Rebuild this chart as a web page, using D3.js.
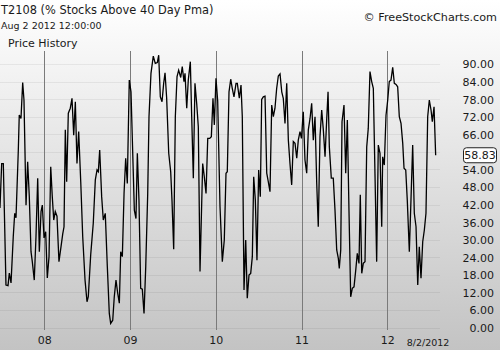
<!DOCTYPE html>
<html>
<head>
<meta charset="utf-8">
<script src="https://cdn.jsdelivr.net/npm/d3@7/dist/d3.min.js"></script>
<style>
  html, body { margin: 0; padding: 0; background: #fff; }
  svg { display: block; }
  text { font-family: "DejaVu Sans", Verdana, sans-serif; fill: #1a1a1a; }
</style>
</head>
<body>
<script>
// T2108 weekly readings, time as decimal year
const weekTime = [
  2007.483, 2007.503, 2007.522, 2007.553, 2007.577, 2007.592, 2007.612, 2007.638, 2007.655, 2007.670,
  2007.697, 2007.708, 2007.728, 2007.748, 2007.763, 2007.787, 2007.806, 2007.825, 2007.845, 2007.860,
  2007.883, 2007.903, 2007.923, 2007.942, 2007.962, 2007.977, 2007.997, 2008.016, 2008.035, 2008.055,
  2008.075, 2008.093, 2008.110, 2008.128, 2008.148, 2008.171, 2008.195, 2008.215, 2008.230, 2008.245,
  2008.261, 2008.280, 2008.303, 2008.323, 2008.343, 2008.362, 2008.381, 2008.401, 2008.425, 2008.448,
  2008.475, 2008.498, 2008.513, 2008.541, 2008.571, 2008.595, 2008.615, 2008.630, 2008.646, 2008.669,
  2008.688, 2008.711, 2008.735, 2008.758, 2008.774, 2008.798, 2008.816, 2008.836, 2008.856, 2008.875,
  2008.891, 2008.910, 2008.930, 2008.949, 2008.968, 2008.991, 2009.011, 2009.050, 2009.069, 2009.085,
  2009.104, 2009.124, 2009.143, 2009.163, 2009.183, 2009.206, 2009.221, 2009.244, 2009.271, 2009.294,
  2009.318, 2009.334, 2009.353, 2009.373, 2009.392, 2009.408, 2009.427, 2009.451, 2009.474, 2009.489,
  2009.509, 2009.528, 2009.548, 2009.567, 2009.591, 2009.609, 2009.629, 2009.641, 2009.661, 2009.679,
  2009.703, 2009.719, 2009.738, 2009.757, 2009.777, 2009.796, 2009.816, 2009.847, 2009.866, 2009.886,
  2009.906, 2009.929, 2009.948, 2009.967, 2009.983, 2010.002, 2010.022, 2010.049, 2010.076, 2010.099,
  2010.119, 2010.134, 2010.154, 2010.174, 2010.192, 2010.212, 2010.236, 2010.251, 2010.274, 2010.294,
  2010.309, 2010.329, 2010.349, 2010.367, 2010.387, 2010.407, 2010.426, 2010.442, 2010.461, 2010.480,
  2010.500, 2010.519, 2010.535, 2010.554, 2010.574, 2010.594, 2010.612, 2010.632, 2010.652, 2010.671,
  2010.690, 2010.710, 2010.729, 2010.749, 2010.769, 2010.787, 2010.807, 2010.827, 2010.846, 2010.865,
  2010.885, 2010.904, 2010.924, 2010.944, 2010.962, 2010.982, 2010.999, 2011.020, 2011.040, 2011.060,
  2011.079, 2011.099, 2011.118, 2011.137, 2011.157, 2011.177, 2011.195, 2011.215, 2011.235, 2011.254,
  2011.274, 2011.293, 2011.309, 2011.324, 2011.347, 2011.370, 2011.390, 2011.410, 2011.429, 2011.440,
  2011.457, 2011.472, 2011.495, 2011.515, 2011.534, 2011.553, 2011.573, 2011.592, 2011.612, 2011.632,
  2011.650, 2011.670, 2011.685, 2011.702, 2011.720, 2011.740, 2011.760, 2011.778, 2011.798, 2011.818,
  2011.837, 2011.857, 2011.876, 2011.895, 2011.915, 2011.935, 2011.946, 2011.965, 2011.985, 2012.005,
  2012.023, 2012.043, 2012.063, 2012.082, 2012.102, 2012.121, 2012.140, 2012.160, 2012.180, 2012.195,
  2012.215, 2012.233, 2012.257, 2012.276, 2012.296, 2012.315, 2012.335, 2012.355, 2012.373, 2012.393,
  2012.413, 2012.432, 2012.451, 2012.471, 2012.490, 2012.510, 2012.525, 2012.545, 2012.564
];

const t2108 = [
  40.8, 56.0, 56.0, 14.5, 14.3, 18.6, 15.2, 31.0, 39.0, 37.5,
  60.6, 72.6, 71.4, 83.7, 77.7, 41.8, 56.6, 44.7, 25.9, 22.5,
  16.2, 31.0, 51.0, 25.9, 39.6, 41.8, 30.6, 32.7, 16.9, 24.2,
  54.9, 44.7, 36.7, 39.6, 38.0, 22.5, 27.6, 32.0, 34.4, 67.5,
  49.8, 73.2, 74.9, 78.3, 65.7, 77.1, 56.0, 66.9, 49.8, 31.0,
  16.2, 8.8, 10.5, 24.8, 35.6, 50.4, 53.8, 53.2, 60.6, 44.7,
  36.7, 39.0, 20.8, 4.8, 1.4, 2.5, 10.5, 16.2, 11.7, 8.3,
  25.9, 24.2, 45.8, 57.8, 49.2, 84.5, 80.5, 40.1, 37.2, 59.5,
  43.5, 13.4, 13.1, 4.8, 20.8, 45.8, 72.0, 86.8, 92.7, 90.2,
  90.5, 93.0, 78.8, 77.1, 83.4, 87.0, 78.3, 59.5, 53.2, 43.5,
  26.7, 72.0, 85.7, 87.9, 85.4, 89.1, 84.0, 86.8, 74.9, 84.5,
  90.8, 72.0, 51.0, 83.4, 76.6, 68.6, 19.1, 56.0, 51.5, 45.8,
  64.6, 64.6, 65.2, 78.3, 69.2, 85.1, 77.4, 41.3, 22.5, 29.9,
  52.7, 53.2, 80.5, 84.8, 81.7, 78.8, 83.4, 83.4, 78.3, 82.8,
  72.0, 12.8, 29.9, 10.0, 17.9, 18.5, 24.2, 51.5, 43.5, 23.0,
  53.8, 44.7, 77.9, 78.8, 79.0, 52.7, 49.8, 46.4, 76.0, 72.0,
  74.9, 81.7, 85.9, 86.6, 80.5, 78.3, 69.7, 83.4, 64.0, 56.0,
  48.7, 63.5, 62.9, 57.8, 64.0, 66.9, 64.6, 73.7, 57.2, 52.7,
  67.5, 71.4, 76.6, 64.0, 72.0, 49.2, 34.4, 65.2, 74.3, 67.5,
  58.3, 70.9, 80.5, 61.7, 51.0, 51.0, 40.1, 26.5, 23.6, 20.2,
  26.5, 70.3, 76.0, 52.7, 70.9, 40.1, 10.5, 13.4, 13.9, 19.6,
  25.3, 21.9, 45.3, 18.5, 21.9, 22.5, 61.7, 68.0, 87.4, 84.0,
  81.7, 51.5, 22.5, 62.3, 59.5, 34.4, 58.3, 55.5, 72.5, 77.7,
  84.0, 84.5, 88.9, 83.4, 83.0, 82.2, 72.0, 69.7, 62.9, 54.4,
  53.8, 43.5, 25.9, 43.5, 62.3, 39.0, 34.4, 14.5, 27.6, 16.8,
  29.3, 33.3, 39.0, 72.0, 77.7, 74.3, 70.3, 75.4, 58.83
];

const yearTicks = [2008, 2009, 2010, 2011, 2012];
const valueTicks = [0, 6, 12, 18, 24, 30, 36, 42, 48, 54, 66, 72, 78, 84, 90];
const lastLabel = "58.83";
const lastDateLabel = "8/2/2012";

const W = 500, H = 350;
const svg = d3.select("body").append("svg").attr("width", W).attr("height", H);

// background gradient
const defs = svg.append("defs");
const grad = defs.append("linearGradient").attr("id", "bg").attr("x1", 0).attr("y1", 0).attr("x2", 0).attr("y2", 1);
grad.append("stop").attr("offset", "0%").attr("stop-color", "#ffffff");
grad.append("stop").attr("offset", "100%").attr("stop-color", "#c3c3c3");
svg.append("rect").attr("width", W).attr("height", H).attr("fill", "url(#bg)");

const plotTop = 51, plotBottom = 330, plotRight = 440;

const x = d3.scaleLinear().domain([2008, 2012]).range([44.3, 387.3]);
const y = d3.scaleLinear().domain([0, 90]).range([327.5, 64]);

// horizontal grid (including the hidden 60 level)
svg.append("g").selectAll("line").data(d3.range(0, 91, 6)).join("line")
  .attr("x1", 0).attr("x2", plotRight)
  .attr("y1", d => Math.round(y(d)) + 0.5).attr("y2", d => Math.round(y(d)) + 0.5)
  .attr("stroke", "#000").attr("stroke-opacity", 0.06);

// year separators
svg.append("g").selectAll("line").data(yearTicks).join("line")
  .attr("x1", d => Math.round(x(d)) + 0.5).attr("x2", d => Math.round(x(d)) + 0.5)
  .attr("y1", plotTop).attr("y2", plotBottom)
  .attr("stroke", "#7a7a7a").attr("stroke-width", 1);

// price line
const line = d3.line().x((d, i) => x(weekTime[i])).y(d => y(d));
svg.append("path").datum(t2108)
  .attr("d", line)
  .attr("fill", "none").attr("stroke", "#000").attr("stroke-width", 1.3)
  .attr("stroke-linejoin", "miter");

// right value axis
const yAxis = d3.axisLeft(y).tickValues(valueTicks).tickSize(0).tickPadding(0).tickFormat(d3.format(".2f"));
const yg = svg.append("g").attr("transform", "translate(494,0)").call(yAxis);
yg.select(".domain").remove();
yg.selectAll("text").attr("font-size", 11).attr("font-family", "DejaVu Sans").attr("fill", "#222").attr("dy", "0.36em");

// bottom year axis
const xAxis = d3.axisBottom(x).tickValues(yearTicks).tickSize(0).tickPadding(0).tickFormat(d => String(d).slice(2));
const xg = svg.append("g").attr("transform", "translate(0,336)").call(xAxis);
xg.select(".domain").remove();
xg.selectAll("text").attr("font-size", 11).attr("font-family", "DejaVu Sans").attr("fill", "#222");

svg.append("text").attr("x", 428).attr("y", 346).attr("text-anchor", "middle")
  .attr("font-size", 9.5).text(lastDateLabel);

// last value flag
const lastY = y(t2108[t2108.length - 1]);
svg.append("rect").attr("x", 463.5).attr("y", lastY - 7.5).attr("width", 33).attr("height", 15)
  .attr("rx", 3).attr("fill", "#fff").attr("stroke", "#222").attr("stroke-width", 1);
svg.append("text").attr("x", 480).attr("y", lastY).attr("dy", "0.36em").attr("text-anchor", "middle")
  .attr("font-size", 11).attr("fill", "#000").text(lastLabel);

// header texts
svg.append("text").attr("x", 1).attr("y", 14).attr("font-size", 11.4).text("T2108 (% Stocks Above 40 Day Pma)");
svg.append("text").attr("x", 1).attr("y", 29).attr("font-size", 9.5).text("Aug 2 2012 12:00:00");
svg.append("text").attr("x", 8).attr("y", 47).attr("font-size", 11).text("Price History");
svg.append("text").attr("x", 497).attr("y", 21).attr("text-anchor", "end").attr("font-size", 11.2).text("© FreeStockCharts.com");
</script>
</body>
</html>
